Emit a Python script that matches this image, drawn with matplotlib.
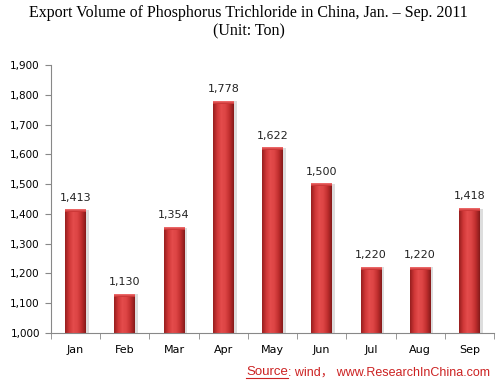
import matplotlib.pyplot as plt
import numpy as np
from matplotlib.colors import LinearSegmentedColormap

months = ['Jan', 'Feb', 'Mar', 'Apr', 'May', 'Jun', 'Jul', 'Aug', 'Sep']
volume = [1413, 1130, 1354, 1778, 1622, 1500, 1220, 1220, 1418]
y_ticks = list(range(1000, 2000, 100))

fig = plt.figure(figsize=(4.97, 3.88), dpi=100)
ax = fig.add_axes([0.1026, 0.1418, 0.8914, 0.6907])

# horizontal gradient for the bar body (dark edges, bright middle)
cmap = LinearSegmentedColormap.from_list(
    'bar', ['#981f1f', '#d03838', '#e44c4c', '#dc4444', '#bf2e2e', '#861a1a'])
grad = np.linspace(0, 1, 64).reshape(1, -1)
bw = 0.42

x = np.arange(len(months))
for xi, v in zip(x, volume):
    # soft shadow on the right
    ax.bar(xi + 0.06, v - 1000, width=bw, bottom=1000,
           color='#dddddd', zorder=1, linewidth=0)
    ax.imshow(grad, cmap=cmap, aspect='auto', zorder=2,
              extent=[xi - bw / 2, xi + bw / 2, 1000, v])
    # bevelled cap
    ax.imshow(np.linspace(0, 1, 8).reshape(-1, 1), zorder=3, aspect='auto',
              cmap=LinearSegmentedColormap.from_list('cap', ['#f07070', '#c83030']),
              extent=[xi - bw / 2, xi + bw / 2, v - 8, v])
    ax.text(xi, v + 24, f'{v:,}', ha='center', va='bottom', fontsize=8,
            color='#222222')

ax.set_xlim(-0.5, len(months) - 0.5)
ax.set_ylim(1000, 1900)
ax.set_yticks(y_ticks)
ax.set_yticklabels([f'{t:,}' for t in y_ticks], fontsize=7.5)
ax.set_xticks(x)
ax.set_xticklabels(months, fontsize=8)
ax.set_xticks(np.arange(-0.5, len(months), 1), minor=True)
ax.tick_params(axis='x', which='major', length=0, pad=9)
ax.tick_params(axis='x', which='minor', length=4, color='#888888')
ax.tick_params(axis='y', length=4, color='#888888', pad=4)
for s in ['top', 'right']:
    ax.spines[s].set_visible(False)
for s in ['left', 'bottom']:
    ax.spines[s].set_color('#888888')

fig.text(0.5, 0.966, 'Export Volume of Phosphorus Trichloride in China, Jan. \u2013 Sep. 2011',
         ha='center', va='center', fontsize=11.5, family='Liberation Serif')
fig.text(0.5, 0.918, '(Unit: Ton)', ha='center', va='center', fontsize=11.5,
         family='Liberation Serif')

# source line: underlined "Source" followed by the rest, right-aligned
r = fig.canvas.get_renderer()
rest = fig.text(0.986, 0.04, ': wind\uff0c www.ResearchInChina.com', ha='right',
                va='center', fontsize=9, color='#cc2222',
                family=['Liberation Sans', 'Noto Sans CJK SC'])
rb = rest.get_window_extent(r).transformed(fig.transFigure.inverted())
src = fig.text(rb.x0, 0.04, 'Source', ha='right', va='center', fontsize=9.5,
               color='#cc2222', family='Liberation Sans')
bb = src.get_window_extent(r).transformed(fig.transFigure.inverted())
fig.add_artist(plt.Line2D([bb.x0, bb.x1], [bb.y0 + 0.002, bb.y0 + 0.002],
                          color='#cc2222', lw=0.8))

fig.savefig('out.png', dpi=100)
